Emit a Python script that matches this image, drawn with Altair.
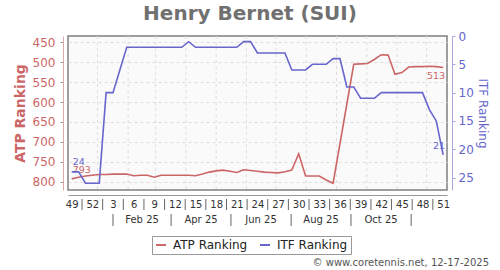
import altair as alt
import pandas as pd

# ---------------- data ----------------
week_labels = ["49", "50", "51", "52"] + [str(w) for w in range(1, 52)]
atp_rank = [793, 789, 786, 784, 782, 782, 781, 781, 781, 785,
            784, 784, 789, 784, 784, 784, 784, 784, 785, 781,
            776, 773, 771, 774, 777, 770, 772, 774, 776, 777,
            778, 775, 771, 730, 786, 786, 786, 796, 804, None,
            None, 505, 504, 503, 493, 481, 482, 530, 526, 512,
            511, 511, 510, 511, 513]
itf_rank = [24, 24, 26, 26, 26, 10, 10, 6, 2, 2,
            2, 2, 2, 2, 2, 2, 2, 1, 2, 2,
            2, 2, 2, 2, 2, 1, 1, 3, 3, 3,
            3, 3, 6, 6, 6, 5, 5, 5, 4, 4,
            9, 9, 11, 11, 11, 10, 10, 10, 10, 10,
            10, 10, 13, 15, 21]
series_names = ["ATP Ranking", "ITF Ranking"]
atp_ticks = [450, 500, 550, 600, 650, 700, 750, 800]
itf_ticks = [0, 5, 10, 15, 20, 25]
month_labels = ["Feb 25", "Apr 25", "Jun 25", "Aug 25", "Oct 25"]
month_sep_pos = [6.0, 14.45, 23.15, 31.9, 40.6, 49.35]
month_grid_pos = [3.75, 8.2, 12.2, 16.6, 21.0, 25.4, 29.7, 34.1, 38.5, 42.9, 47.3, 51.6]
title_text = "Henry Bernet (SUI)"
copyright_text = "\u00a9 www.coretennis.net, 12-17-2025"

RED = "#cc6666"
BLUE = "#6666cc"
W, H = 379, 154

# ---------------- frames ----------------
n = len(week_labels)
atp_df = pd.DataFrame({"i": range(n), "value": atp_rank, "series": series_names[0]}).dropna()
itf_df = pd.DataFrame({"i": range(n), "value": itf_rank, "series": series_names[1]})
tick_idx = list(range(0, n, 3))
sep_df = pd.DataFrame({"s": [t + 1.5 for t in tick_idx[:-1]]})
msep_df = pd.DataFrame({"s": month_sep_pos})
mlab_df = pd.DataFrame({"s": [(a + b) / 2 for a, b in zip(month_sep_pos[:-1], month_sep_pos[1:])],
                        "label": month_labels})
mgrid_df = pd.DataFrame({"s": month_grid_pos})

label_expr = "".join(f"datum.value === {i} ? '{week_labels[i]}' : " for i in tick_idx) + "''"

x_axis = alt.Axis(values=tick_idx, labelExpr=label_expr, ticks=False, grid=False,
                  domainColor="#999999", offset=5, labelFontSize=10, labelColor="#333333",
                  labelPadding=4, labelFlush=False, labelOverlap=False, title=None)
x_scale = alt.Scale(domain=[-0.54, 54.56], nice=False, zero=False)


def xenc(field):
    return alt.X(f"{field}:Q", scale=x_scale, axis=x_axis, title=None)


atp_axis = alt.Axis(orient="left", values=atp_ticks, title="ATP Ranking", titleColor=RED,
                    titleFontSize=14, titleFontWeight="bold", labelColor=RED, labelFontSize=12,
                    tickSize=3, tickColor="#999999", domainColor="#e0a8a8", offset=5,
                    grid=True, gridColor="#dddddd", gridDash=[3, 3], labelPadding=5, titlePadding=5)
atp_scale = alt.Scale(domain=[434, 821], reverse=True, nice=False, zero=False)
itf_axis = alt.Axis(orient="right", values=itf_ticks, title="ITF Ranking", titleColor=BLUE,
                    titleFontSize=12, titleFontWeight="normal", labelColor=BLUE, labelFontSize=12,
                    tickSize=3, tickColor="#a8a8e0", domainColor="#a8a8e0", offset=5,
                    grid=False, labelPadding=3, titlePadding=2)
itf_scale = alt.Scale(domain=[0, 27.2], reverse=True, nice=False, zero=False)

legend = alt.Legend(orient="none", legendX=84, legendY=200, direction="horizontal", title=None,
                    symbolType="stroke", symbolStrokeWidth=2, symbolSize=100, labelFontSize=12,
                    labelColor="#222222", strokeColor="#999999", fillColor="white", padding=3,
                    columnPadding=8, labelOffset=6)
color = alt.Color("series:N", scale=alt.Scale(domain=series_names, range=[RED, BLUE]), legend=legend)

grid = alt.Chart(mgrid_df).mark_rule(color="#dddddd", strokeDash=[3, 3]).encode(x=xenc("s"))


def end_label(df, idx, scale, axis, col, align, dx, dy):
    d = df[df["i"] == idx].copy()
    d["t"] = d["value"].astype(int).astype(str)
    return alt.Chart(d).mark_text(align=align, baseline="middle", dx=dx, dy=dy, fontSize=9.5,
                                  color=col).encode(
        x=xenc("i"), y=alt.Y("value:Q", scale=scale, axis=axis), text="t:N")


atp_line = alt.Chart(atp_df).mark_line(strokeWidth=1.6).encode(
    x=xenc("i"), y=alt.Y("value:Q", scale=atp_scale, axis=atp_axis), color=color)
itf_line = alt.Chart(itf_df).mark_line(strokeWidth=1.6).encode(
    x=xenc("i"), y=alt.Y("value:Q", scale=itf_scale, axis=itf_axis), color=color)

atp_layer = alt.layer(
    atp_line,
    end_label(atp_df, 0, atp_scale, atp_axis, RED, "left", 1, -9),
    end_label(atp_df, n - 1, atp_scale, atp_axis, RED, "right", 2, 9),
)
itf_layer = alt.layer(
    itf_line,
    end_label(itf_df, 0, itf_scale, itf_axis, BLUE, "left", 1, -10),
    end_label(itf_df, n - 1, itf_scale, itf_axis, BLUE, "right", 2, -9),
)

week_seps = alt.Chart(sep_df).mark_rule(color="#666666").encode(
    x=xenc("s"), y=alt.value(H + 9), y2=alt.value(H + 20))
month_seps = alt.Chart(msep_df).mark_rule(color="#666666").encode(
    x=xenc("s"), y=alt.value(H + 24), y2=alt.value(H + 36))
month_text = alt.Chart(mlab_df).mark_text(fontSize=10, color="#333333", baseline="middle").encode(
    x=xenc("s"), y=alt.value(H + 30), text="label:N")
copyright = alt.Chart(pd.DataFrame({"t": [copyright_text]})).mark_text(
    align="right", baseline="middle", fontSize=10, color="#555555").encode(
    x=alt.value(421), y=alt.value(227), text="t:N")
title = alt.Chart(pd.DataFrame({"t": [title_text]})).mark_text(
    align="center", baseline="alphabetic", fontSize=20, fontWeight="bold", color="#707070").encode(
    x=alt.value(182), y=alt.value(-16), text="t:N")

chart = alt.layer(grid, atp_layer, itf_layer, week_seps, month_seps, month_text, copyright, title).resolve_scale(
    y="independent"
).properties(
    width=W, height=H,
    autosize=alt.AutoSizeParams(type="none"),
    padding={"left": 68, "top": 36, "right": 53, "bottom": 80},
).configure(font="DejaVu Sans", background="white").configure_view(
    fill="#fafafa", stroke="#808080", strokeWidth=1.5)

chart.save("out.html", embed_options={"renderer": "svg", "actions": False})
